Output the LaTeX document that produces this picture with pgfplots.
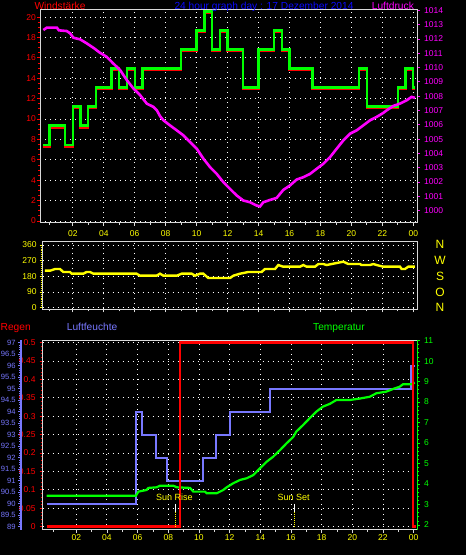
\documentclass[border=0pt]{standalone}
\usepackage{fontspec}
\setmainfont{Liberation Sans}
\usepackage{pgfplots}
\pgfplotsset{compat=1.18}
\definecolor{frm}{RGB}{216,216,216}
\definecolor{hum}{RGB}{120,120,255}
\definecolor{ttl}{RGB}{10,10,255}
\definecolor{grn}{RGB}{0,255,0}
\definecolor{mag}{RGB}{255,0,255}
\definecolor{yel}{RGB}{255,255,0}
\definecolor{rd}{RGB}{255,0,0}
\pgfplotsset{
  base/.style={scale only axis, anchor=south west,
    /pgf/number format/assume math mode=true,
    /pgf/number format/1000 sep={},
    scaled ticks=false,
    axis line style={frm, line width=1pt},
    tick align=outside,
    major tick length=3pt, minor tick length=2pt,
    x tick style={frm, line width=0.8pt},
    ticklabel style={font=\fontsize{8.5}{9}\selectfont, inner sep=1pt},
    grid style={white, line width=0.9pt, dash pattern=on 0.9pt off 4.1pt},
  },
}
\pgfplotstableread{
x y
0.1 7.48
0.5 9.35
1.5 7.48
2.0 11.22
2.5 9.35
3.0 11.22
3.5 13.09
4.5 14.96
5.0 13.09
5.5 14.96
6.0 13.09
6.5 14.96
9.0 16.83
10.0 18.70
10.5 20.57
11.0 16.83
11.5 18.70
12.0 16.83
13.0 13.09
14.0 16.83
15.0 18.70
15.5 16.83
16.0 14.96
17.5 13.09
20.5 14.96
21.0 11.22
23.0 13.09
23.5 14.96
24.0 13.09
24.1 13.09
}\windavg
\pgfplotstableread{
x y
0.1 7.32
0.5 9.19
1.5 7.32
2.0 11.06
2.5 9.19
3.0 11.06
3.5 12.93
4.5 14.80
5.0 12.93
5.5 14.80
6.0 12.93
6.5 14.80
9.0 16.67
10.0 18.54
10.5 20.41
11.0 16.67
11.5 18.54
12.0 16.67
13.0 12.93
14.0 16.67
15.0 18.54
15.5 16.67
16.0 14.80
17.5 12.93
20.5 14.80
21.0 11.06
23.0 12.93
23.5 14.80
24.0 12.93
24.1 12.93
}\windgust
\pgfplotstableread{
x y
0.10 1012.62
0.32 1012.79
0.97 1012.79
1.10 1012.60
1.61 1012.55
1.83 1012.39
2.04 1012.08
2.47 1011.97
2.90 1011.69
3.33 1011.38
3.76 1011.03
4.19 1010.75
4.62 1010.28
5.06 1009.82
5.49 1009.12
5.92 1008.53
6.35 1008.07
6.78 1007.48
7.21 1007.25
7.43 1007.01
7.64 1006.60
7.86 1006.31
8.28 1005.96
8.72 1005.61
9.15 1005.26
9.58 1004.79
10.01 1004.33
10.44 1003.63
10.87 1003.04
11.30 1002.57
11.73 1001.99
12.16 1001.52
12.59 1001.06
13.02 1000.71
13.45 1000.59
13.88 1000.36
14.10 1000.30
14.31 1000.59
14.74 1000.75
15.17 1000.89
15.60 1001.45
16.03 1001.76
16.47 1002.18
16.90 1002.34
17.33 1002.57
17.76 1002.93
18.19 1003.28
18.62 1003.74
19.05 1004.33
19.48 1004.91
19.91 1005.38
20.34 1005.61
20.77 1005.96
21.20 1006.31
21.63 1006.55
22.06 1006.83
22.28 1007.01
22.71 1007.32
23.14 1007.48
23.57 1007.71
23.89 1007.95
24.11 1007.88
}\press
\pgfplotstableread{
x y
0.20 212.6
0.54 212.6
0.86 222.1
1.18 222.1
1.40 204.9
1.83 204.9
1.94 195.3
2.69 195.3
2.90 204.9
3.12 204.9
3.34 195.3
6.13 195.3
6.35 183.8
7.42 183.8
7.64 195.3
7.86 183.8
8.72 183.8
9.04 195.3
9.69 195.3
9.90 183.8
10.22 195.3
10.44 195.3
10.76 170.4
12.16 170.4
12.38 183.8
12.81 195.3
13.34 204.9
14.20 204.9
14.42 222.1
15.07 222.1
15.28 245.1
15.60 235.5
16.68 235.5
16.90 245.1
17.11 235.5
17.65 235.5
17.87 250.9
18.19 250.9
18.40 245.1
19.27 260.4
19.48 264.3
19.80 250.9
20.55 250.9
20.66 245.1
21.20 245.1
21.42 250.9
21.63 245.1
22.06 235.5
23.14 235.5
23.25 222.1
23.46 222.1
23.68 235.5
24.11 235.5
}\wdir
\pgfplotstableread{
x y
0.07 90
5.90 94
6.26 93
7.20 92
7.89 91
10.28 92
11.11 93
12.02 94
14.61 95
23.83 96
24.10 96
}\humid
\pgfplotstableread{
x y
0.07 3.43
5.89 3.43
6.05 3.63
6.59 3.71
6.70 3.81
7.24 3.84
7.46 3.92
8.33 3.92
8.55 3.84
9.42 3.81
9.63 3.63
10.39 3.63
10.50 3.55
11.16 3.55
11.59 3.71
11.81 3.84
12.24 4.04
12.68 4.20
13.11 4.28
13.55 4.44
13.98 4.77
14.42 5.09
14.85 5.34
15.29 5.66
15.72 5.99
16.15 6.30
16.35 6.56
16.79 6.88
17.22 7.21
17.65 7.53
18.09 7.78
18.53 7.91
18.96 8.10
19.83 8.10
20.48 8.17
21.14 8.26
21.57 8.43
22.22 8.51
22.66 8.64
23.09 8.75
23.31 8.87
23.85 8.87
24.07 8.95
}\temp
\pgfplotstableread{
x y
0.07 0
8.77 0.5
23.96 0
24.15 0
}\rain
\begin{document}
\begin{tikzpicture}
\fill[black] (0,0) rectangle (466pt,555pt);
% ---------- top panel: wind speed ----------
\begin{axis}[base, at={(40pt,332pt)}, width=377pt, height=213pt,
  xmin=-0.12, xmax=24.24, ymin=-0.2, ymax=20.7,
  xtick={2,4,...,24}, xticklabels={02,04,06,08,10,12,14,16,18,20,22,00},
  minor xtick={0.5,3,5,...,23},
  xtick pos=bottom, ytick pos=left,
  ytick={0,2,...,20}, minor y tick num=3,
  y tick style={rd, line width=0.8pt},
  xticklabel style={yel, yshift=-3pt}, yticklabel style={rd},
  xmajorgrids, ymajorgrids]
  \addplot[const plot, rd, line width=2.4pt] table {\windgust};
  \addplot[const plot, grn, line width=2.4pt] table {\windavg};
\end{axis}
% ---------- top panel: pressure ----------
\begin{axis}[base, at={(40pt,332pt)}, width=377pt, height=213pt,
  xmin=-0.12, xmax=24.24, ymin=999.14, ymax=1014.02,
  axis x line=none, axis y line*=right,
  ytick={1000,1001,...,1014}, minor y tick num=3,
  y tick style={mag, line width=0.8pt},
  yticklabel style={mag, anchor=west, xshift=3pt}]
  \addplot[mag, line width=2.6pt] table {\press};
\end{axis}
% ---------- middle panel: wind direction ----------
\begin{axis}[base, at={(42.7pt,245.7pt)}, width=374.3pt, height=67.6pt,
  xmin=0.065, xmax=24.24, ymin=-9.2, ymax=379,
  xtick={2,4,...,24}, xticklabels={}, minor xtick={0.5,3,5,...,23},
  xtick pos=bottom, ytick pos=left,
  ytick={0,90,180,270,360}, minor y tick num=7,
  y tick style={yel, line width=0.8pt}, yticklabel style={yel, xshift=-2pt},
  xmajorgrids, ymajorgrids]
  \addplot[yel, line width=2.4pt] table {\wdir};
\end{axis}
% ---------- bottom panel: frame, grid and rain scale ----------
\begin{axis}[base, at={(42.7pt,25pt)}, width=374.3pt, height=190pt,
  xmin=-0.19, xmax=24.22, ymin=-0.009, ymax=0.507,
  xtick={2,4,...,24}, xticklabels={02,04,06,08,10,12,14,16,18,20,22,00},
  minor xtick={0.5,3,5,...,23},
  xtick pos=bottom, ytick pos=left,
  ytick={0,0.05,0.1,0.15,0.2,0.25,0.3,0.35,0.4,0.45,0.5},
  yticklabels={0,0.05,0.1,0.15,0.2,0.25,0.3,0.35,0.4,0.45,0.5},
  minor y tick num=4,
  y tick style={rd, line width=0.8pt}, yticklabel style={rd, xshift=-3pt},
  xticklabel style={yel},
  xmajorgrids, ymajorgrids]
\end{axis}
% ---------- humidity ----------
\begin{axis}[base, at={(42.7pt,25pt)}, width=374.3pt, height=190pt,
  xmin=-0.19, xmax=24.22, ymin=88.86, ymax=97.12,
  axis x line=none, axis y line*=left, axis y line shift=21.4pt,
  axis line style={hum, line width=2pt},
  ytick={89,89.5,...,97},
  yticklabels={89,89.5,90,90.5,91,91.5,92,92.5,93,93.5,94,94.5,95,95.5,96,96.5,97},
  minor y tick num=4,
  y tick style={hum, line width=0.8pt},
  yticklabel style={hum, font=\fontsize{7.6}{8}\selectfont, inner sep=0.5pt, xshift=-2pt}]
  \addplot[const plot, hum, line width=2pt] table {\humid};
\end{axis}
% ---------- temperature ----------
\begin{axis}[base, at={(42.7pt,25pt)}, width=374.3pt, height=190pt,
  xmin=-0.19, xmax=24.22, ymin=1.756, ymax=11.03,
  axis x line=none, axis y line*=right,
  axis line style={grn, line width=1pt},
  ytick={2,3,...,11}, minor y tick num=4,
  y tick style={grn, line width=0.8pt},
  yticklabel style={grn, anchor=west, xshift=3pt}]
  \addplot[grn, line width=2.2pt] table {\temp};
\end{axis}
% ---------- rain data ----------
\begin{axis}[base, at={(42.7pt,25pt)}, width=374.3pt, height=190pt,
  xmin=-0.19, xmax=24.22, ymin=-0.009, ymax=0.507, hide axis]
  \addplot[const plot, rd, line width=2.4pt] table {\rain};
  \draw[white, line width=1pt] (axis cs:8.46,0.062) -- (axis cs:8.46,0.041);
  \draw[yel, line width=0.8pt, dash pattern=on 1pt off 1pt] (axis cs:8.46,0.041) -- (axis cs:8.46,0);
  \draw[white, line width=1pt] (axis cs:16.22,0.062) -- (axis cs:16.22,0.041);
  \draw[yel, line width=0.8pt, dash pattern=on 1pt off 1pt] (axis cs:16.22,0.041) -- (axis cs:16.22,0);
\end{axis}
% ---------- texts ----------
\begin{scope}[every node/.style={inner sep=0pt, font=\fontsize{10.2}{12}\selectfont}]
\node[anchor=base west, text=rd] at (34.3pt,545.7pt) {Windstärke};
\node[anchor=base, text=ttl] at (264pt,545.7pt) {24 hour graph day : 17 Dezember 2014};
\node[anchor=base west, text=mag] at (371.7pt,545.7pt) {Luftdruck};
\node[anchor=base west, text=rd] at (0.5pt,224pt) {Regen};
\node[anchor=base west, text=hum] at (66.7pt,224pt) {Luftfeuchte};
\node[anchor=base west, text=grn] at (313pt,224pt) {Temperatur};
\node[anchor=base, text=yel, font=\fontsize{9}{10}\selectfont] at (174.3pt,54.3pt) {Sun Rise};
\node[anchor=base, text=yel, font=\fontsize{9}{10}\selectfont] at (293.7pt,54.3pt) {Sun Set};
\node[text=yel, font=\fontsize{12}{13}\selectfont] at (440pt,310.3pt) {N};
\node[text=yel, font=\fontsize{12}{13}\selectfont] at (440pt,295pt) {W};
\node[text=yel, font=\fontsize{12}{13}\selectfont] at (440pt,279pt) {S};
\node[text=yel, font=\fontsize{12}{13}\selectfont] at (440pt,263pt) {O};
\node[text=yel, font=\fontsize{12}{13}\selectfont] at (440pt,247.3pt) {N};
\end{scope}
\pgfresetboundingbox
\useasboundingbox (0,0) rectangle (466pt,555pt);
\end{tikzpicture}
\end{document}
